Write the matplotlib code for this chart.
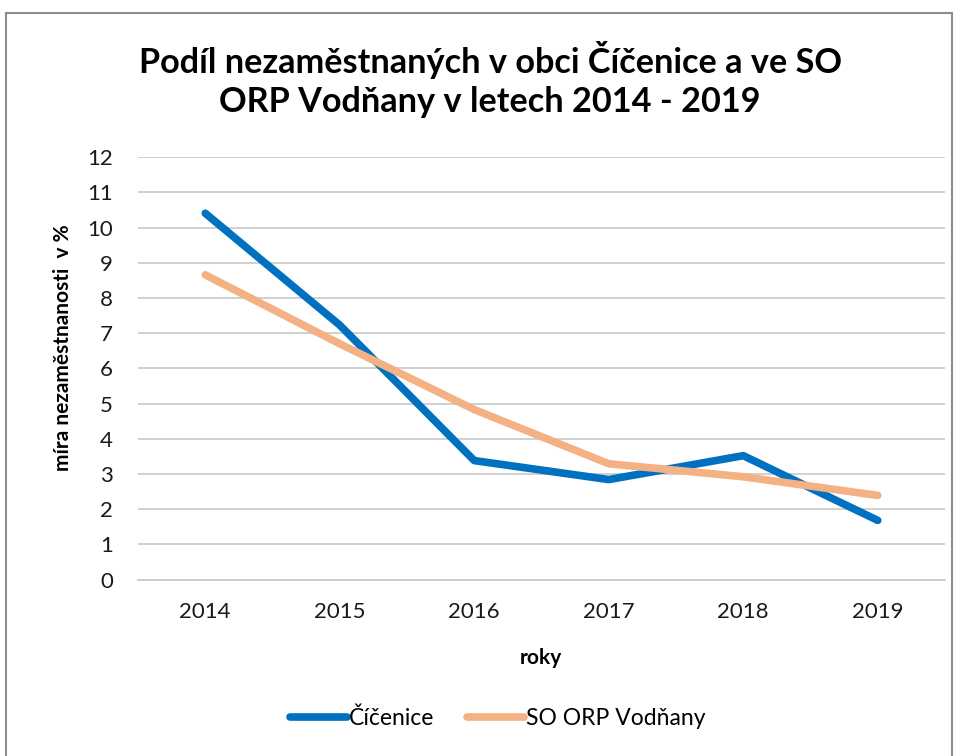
import matplotlib.pyplot as plt
from matplotlib.patches import Rectangle

years = ['2014', '2015', '2016', '2017', '2018', '2019']
cicenice = [10.41, 7.23, 3.38, 2.84, 3.52, 1.68]
vodnany = [8.66, 6.70, 4.83, 3.29, 2.92, 2.39]

plt.rcParams['font.family'] = ['Lato', 'DejaVu Sans']

fig = plt.figure(figsize=(9.59, 7.56), dpi=100)
# chart border like a spreadsheet chart area
fig.patches.append(Rectangle((6 / 959, -0.01), 946 / 959, 1 - 13 / 756 + 0.01,
                             transform=fig.transFigure, fill=False,
                             edgecolor='#8c8c8c', linewidth=1.5))

ax = fig.add_axes([138 / 959, 1 - 579.5 / 756, 807 / 959, 422.2 / 756])
x = range(len(years))
ax.plot(x, cicenice, color='#0070C0', linewidth=5.5, solid_capstyle='round',
        solid_joinstyle='round', label='Číčenice', zorder=3)
ax.plot(x, vodnany, color='#F4B183', linewidth=5.5, solid_capstyle='round',
        solid_joinstyle='round', label='SO ORP Vodňany', zorder=3)

ax.set_xlim(-0.5, len(years) - 0.5)
ax.set_ylim(0, 12)
ax.set_yticks(range(0, 13))
ax.set_xticks(list(x))
ax.set_xticklabels(years)
ax.yaxis.grid(True, color='#c8c8c8', linewidth=1.2)
ax.set_axisbelow(True)
for s in ['top', 'right', 'left']:
    ax.spines[s].set_visible(False)
ax.spines['bottom'].set_color('#c8c8c8')
ax.spines['bottom'].set_linewidth(1.2)
ax.tick_params(axis='both', length=0, labelsize=16, labelcolor='#1a1a1a')
ax.tick_params(axis='x', pad=16)
ax.tick_params(axis='y', pad=18)

fig.text(541 / 959, 1 - 658 / 756, 'roky', ha='center', va='center',
         fontsize=15, fontweight='bold')
fig.text(63 / 959, 1 - 348 / 756, 'míra nezaměstnanosti  v %', ha='center',
         va='center', rotation=90, fontsize=15, fontweight='bold')

fig.text(0.511, 1 - 60 / 756, 'Podíl nezaměstnaných v obci Číčenice a ve SO',
         ha='center', va='center', fontsize=24.7, fontweight='bold')
fig.text(0.511, 1 - 102 / 756, 'ORP Vodňany v letech 2014 - 2019',
         ha='center', va='center', fontsize=24.7, fontweight='bold')

fig.legend(loc='center', bbox_to_anchor=(0.519, 1 - 718 / 756), ncol=2,
           frameon=False, fontsize=16.5, handlelength=2.5, handletextpad=0.1,
           columnspacing=1.4)

fig.savefig('out.png', dpi=100)
